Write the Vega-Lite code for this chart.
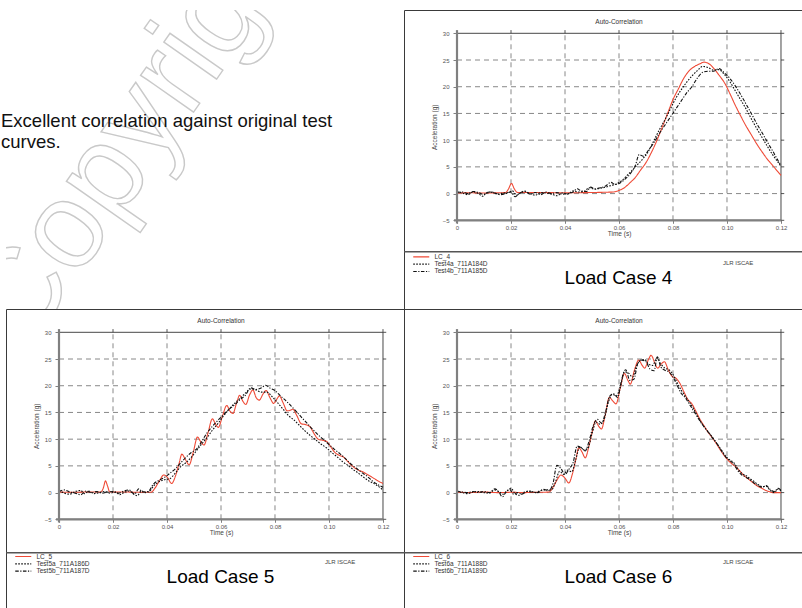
{
  "$schema": "https://vega.github.io/schema/vega-lite/v6.json",
  "padding": {"left": 1, "top": 9, "right": 0, "bottom": 0},
  "config": {"font": "Liberation Sans", "view": {"stroke": "#3a3a3a", "strokeWidth": 1}},
  "datasets": {
    "p4": [
      {"s":"LC_4","t":0,"a":0.1},{"s":"LC_4","t":0.005,"a":0.15},{"s":"LC_4","t":0.01,"a":0.1},{"s":"LC_4","t":0.015,"a":0.15},{"s":"LC_4","t":0.018,"a":0.2},{"s":"LC_4","t":0.019,"a":0.8},{"s":"LC_4","t":0.0202,"a":1.9},{"s":"LC_4","t":0.0212,"a":0.9},{"s":"LC_4","t":0.0225,"a":0.2},{"s":"LC_4","t":0.03,"a":0.2},{"s":"LC_4","t":0.04,"a":0.15},{"s":"LC_4","t":0.05,"a":0.2},{"s":"LC_4","t":0.055,"a":0.25},{"s":"LC_4","t":0.058,"a":0.3},{"s":"LC_4","t":0.06,"a":0.6},{"s":"LC_4","t":0.062,"a":1.1},{"s":"LC_4","t":0.064,"a":2.0},{"s":"LC_4","t":0.066,"a":3.0},{"s":"LC_4","t":0.068,"a":4.4},{"s":"LC_4","t":0.07,"a":5.8},{"s":"LC_4","t":0.072,"a":7.7},{"s":"LC_4","t":0.074,"a":9.9},{"s":"LC_4","t":0.076,"a":12.4},{"s":"LC_4","t":0.078,"a":15.0},{"s":"LC_4","t":0.08,"a":17.6},{"s":"LC_4","t":0.082,"a":19.6},{"s":"LC_4","t":0.084,"a":21.6},{"s":"LC_4","t":0.086,"a":23.0},{"s":"LC_4","t":0.088,"a":23.8},{"s":"LC_4","t":0.09,"a":24.3},{"s":"LC_4","t":0.0915,"a":24.6},{"s":"LC_4","t":0.093,"a":24.4},{"s":"LC_4","t":0.095,"a":23.5},{"s":"LC_4","t":0.097,"a":22.2},{"s":"LC_4","t":0.099,"a":20.8},{"s":"LC_4","t":0.101,"a":18.8},{"s":"LC_4","t":0.103,"a":16.6},{"s":"LC_4","t":0.105,"a":14.6},{"s":"LC_4","t":0.107,"a":12.7},{"s":"LC_4","t":0.109,"a":11.0},{"s":"LC_4","t":0.111,"a":9.3},{"s":"LC_4","t":0.113,"a":7.8},{"s":"LC_4","t":0.115,"a":6.4},{"s":"LC_4","t":0.117,"a":5.2},{"s":"LC_4","t":0.119,"a":4.0},{"s":"LC_4","t":0.12,"a":3.4},
      {"s":"Test4a_711A184D","t":0,"a":0.4},{"s":"Test4a_711A184D","t":0.002,"a":0.1},{"s":"Test4a_711A184D","t":0.004,"a":-0.2},{"s":"Test4a_711A184D","t":0.006,"a":0.3},{"s":"Test4a_711A184D","t":0.008,"a":0.0},{"s":"Test4a_711A184D","t":0.0095,"a":-0.5},{"s":"Test4a_711A184D","t":0.011,"a":0.2},{"s":"Test4a_711A184D","t":0.013,"a":0.3},{"s":"Test4a_711A184D","t":0.015,"a":-0.1},{"s":"Test4a_711A184D","t":0.017,"a":0.1},{"s":"Test4a_711A184D","t":0.019,"a":0.2},{"s":"Test4a_711A184D","t":0.0205,"a":0.5},{"s":"Test4a_711A184D","t":0.022,"a":-0.3},{"s":"Test4a_711A184D","t":0.0235,"a":0.1},{"s":"Test4a_711A184D","t":0.025,"a":0.4},{"s":"Test4a_711A184D","t":0.027,"a":0.0},{"s":"Test4a_711A184D","t":0.029,"a":-0.3},{"s":"Test4a_711A184D","t":0.031,"a":0.2},{"s":"Test4a_711A184D","t":0.033,"a":0.1},{"s":"Test4a_711A184D","t":0.035,"a":-0.1},{"s":"Test4a_711A184D","t":0.037,"a":-0.4},{"s":"Test4a_711A184D","t":0.039,"a":0.1},{"s":"Test4a_711A184D","t":0.041,"a":-0.1},{"s":"Test4a_711A184D","t":0.043,"a":0.5},{"s":"Test4a_711A184D","t":0.045,"a":0.3},{"s":"Test4a_711A184D","t":0.047,"a":0.4},{"s":"Test4a_711A184D","t":0.049,"a":1.1},{"s":"Test4a_711A184D","t":0.051,"a":0.8},{"s":"Test4a_711A184D","t":0.053,"a":1.0},{"s":"Test4a_711A184D","t":0.055,"a":1.2},{"s":"Test4a_711A184D","t":0.057,"a":1.5},{"s":"Test4a_711A184D","t":0.059,"a":1.8},{"s":"Test4a_711A184D","t":0.061,"a":2.4},{"s":"Test4a_711A184D","t":0.063,"a":3.4},{"s":"Test4a_711A184D","t":0.065,"a":4.4},{"s":"Test4a_711A184D","t":0.067,"a":5.5},{"s":"Test4a_711A184D","t":0.069,"a":6.6},{"s":"Test4a_711A184D","t":0.071,"a":8.0},{"s":"Test4a_711A184D","t":0.073,"a":10.0},{"s":"Test4a_711A184D","t":0.075,"a":12.0},{"s":"Test4a_711A184D","t":0.077,"a":13.8},{"s":"Test4a_711A184D","t":0.079,"a":15.8},{"s":"Test4a_711A184D","t":0.081,"a":17.8},{"s":"Test4a_711A184D","t":0.083,"a":19.4},{"s":"Test4a_711A184D","t":0.085,"a":20.8},{"s":"Test4a_711A184D","t":0.087,"a":22.0},{"s":"Test4a_711A184D","t":0.089,"a":23.0},{"s":"Test4a_711A184D","t":0.091,"a":23.8},{"s":"Test4a_711A184D","t":0.093,"a":23.6},{"s":"Test4a_711A184D","t":0.095,"a":23.1},{"s":"Test4a_711A184D","t":0.097,"a":23.2},{"s":"Test4a_711A184D","t":0.099,"a":22.3},{"s":"Test4a_711A184D","t":0.101,"a":21.0},{"s":"Test4a_711A184D","t":0.103,"a":19.3},{"s":"Test4a_711A184D","t":0.105,"a":17.6},{"s":"Test4a_711A184D","t":0.107,"a":15.9},{"s":"Test4a_711A184D","t":0.109,"a":14.0},{"s":"Test4a_711A184D","t":0.111,"a":12.2},{"s":"Test4a_711A184D","t":0.113,"a":10.5},{"s":"Test4a_711A184D","t":0.115,"a":8.8},{"s":"Test4a_711A184D","t":0.117,"a":7.2},{"s":"Test4a_711A184D","t":0.119,"a":5.8},{"s":"Test4a_711A184D","t":0.12,"a":5.1},
      {"s":"Test4b_711A185D","t":0,"a":0.2},{"s":"Test4b_711A185D","t":0.002,"a":0.3},{"s":"Test4b_711A185D","t":0.004,"a":0.0},{"s":"Test4b_711A185D","t":0.006,"a":0.4},{"s":"Test4b_711A185D","t":0.008,"a":0.2},{"s":"Test4b_711A185D","t":0.01,"a":-0.2},{"s":"Test4b_711A185D","t":0.012,"a":0.3},{"s":"Test4b_711A185D","t":0.014,"a":0.1},{"s":"Test4b_711A185D","t":0.016,"a":-0.2},{"s":"Test4b_711A185D","t":0.018,"a":0.0},{"s":"Test4b_711A185D","t":0.02,"a":0.3},{"s":"Test4b_711A185D","t":0.0215,"a":-0.6},{"s":"Test4b_711A185D","t":0.023,"a":0.0},{"s":"Test4b_711A185D","t":0.025,"a":0.5},{"s":"Test4b_711A185D","t":0.027,"a":-0.1},{"s":"Test4b_711A185D","t":0.029,"a":0.2},{"s":"Test4b_711A185D","t":0.031,"a":-0.2},{"s":"Test4b_711A185D","t":0.033,"a":0.3},{"s":"Test4b_711A185D","t":0.035,"a":0.0},{"s":"Test4b_711A185D","t":0.037,"a":0.2},{"s":"Test4b_711A185D","t":0.039,"a":-0.1},{"s":"Test4b_711A185D","t":0.041,"a":0.0},{"s":"Test4b_711A185D","t":0.043,"a":0.3},{"s":"Test4b_711A185D","t":0.0445,"a":0.9},{"s":"Test4b_711A185D","t":0.046,"a":0.5},{"s":"Test4b_711A185D","t":0.048,"a":0.4},{"s":"Test4b_711A185D","t":0.0495,"a":1.2},{"s":"Test4b_711A185D","t":0.051,"a":0.9},{"s":"Test4b_711A185D","t":0.053,"a":1.1},{"s":"Test4b_711A185D","t":0.055,"a":1.4},{"s":"Test4b_711A185D","t":0.057,"a":2.1},{"s":"Test4b_711A185D","t":0.0585,"a":1.7},{"s":"Test4b_711A185D","t":0.06,"a":1.9},{"s":"Test4b_711A185D","t":0.062,"a":2.6},{"s":"Test4b_711A185D","t":0.064,"a":3.6},{"s":"Test4b_711A185D","t":0.066,"a":5.2},{"s":"Test4b_711A185D","t":0.0675,"a":7.3},{"s":"Test4b_711A185D","t":0.069,"a":7.0},{"s":"Test4b_711A185D","t":0.071,"a":8.2},{"s":"Test4b_711A185D","t":0.073,"a":9.6},{"s":"Test4b_711A185D","t":0.075,"a":11.3},{"s":"Test4b_711A185D","t":0.077,"a":12.8},{"s":"Test4b_711A185D","t":0.079,"a":14.3},{"s":"Test4b_711A185D","t":0.081,"a":15.8},{"s":"Test4b_711A185D","t":0.083,"a":17.3},{"s":"Test4b_711A185D","t":0.085,"a":18.8},{"s":"Test4b_711A185D","t":0.087,"a":20.0},{"s":"Test4b_711A185D","t":0.089,"a":21.6},{"s":"Test4b_711A185D","t":0.091,"a":22.7},{"s":"Test4b_711A185D","t":0.093,"a":22.9},{"s":"Test4b_711A185D","t":0.095,"a":22.9},{"s":"Test4b_711A185D","t":0.097,"a":23.4},{"s":"Test4b_711A185D","t":0.099,"a":22.6},{"s":"Test4b_711A185D","t":0.101,"a":21.6},{"s":"Test4b_711A185D","t":0.103,"a":20.2},{"s":"Test4b_711A185D","t":0.105,"a":18.6},{"s":"Test4b_711A185D","t":0.107,"a":16.8},{"s":"Test4b_711A185D","t":0.109,"a":15.0},{"s":"Test4b_711A185D","t":0.111,"a":13.1},{"s":"Test4b_711A185D","t":0.113,"a":11.4},{"s":"Test4b_711A185D","t":0.115,"a":9.6},{"s":"Test4b_711A185D","t":0.117,"a":7.9},{"s":"Test4b_711A185D","t":0.119,"a":6.1},{"s":"Test4b_711A185D","t":0.12,"a":5.3}
    ],
    "p5": [
      {"s":"LC_5","t":0,"a":0.1},{"s":"LC_5","t":0.005,"a":0.05},{"s":"LC_5","t":0.01,"a":0.1},{"s":"LC_5","t":0.0155,"a":0.1},{"s":"LC_5","t":0.0165,"a":1.0},{"s":"LC_5","t":0.0172,"a":2.2},{"s":"LC_5","t":0.018,"a":1.2},{"s":"LC_5","t":0.0188,"a":0.1},{"s":"LC_5","t":0.025,"a":0.1},{"s":"LC_5","t":0.03,"a":0.05},{"s":"LC_5","t":0.034,"a":0.05},{"s":"LC_5","t":0.0355,"a":0.8},{"s":"LC_5","t":0.0372,"a":2.2},{"s":"LC_5","t":0.0388,"a":3.3},{"s":"LC_5","t":0.0402,"a":2.8},{"s":"LC_5","t":0.0417,"a":1.7},{"s":"LC_5","t":0.0432,"a":3.2},{"s":"LC_5","t":0.0445,"a":5.5},{"s":"LC_5","t":0.0455,"a":7.2},{"s":"LC_5","t":0.0468,"a":6.2},{"s":"LC_5","t":0.0482,"a":5.2},{"s":"LC_5","t":0.0497,"a":7.5},{"s":"LC_5","t":0.0513,"a":10.4},{"s":"LC_5","t":0.0526,"a":9.4},{"s":"LC_5","t":0.0537,"a":8.9},{"s":"LC_5","t":0.0552,"a":11.2},{"s":"LC_5","t":0.0568,"a":13.8},{"s":"LC_5","t":0.058,"a":12.8},{"s":"LC_5","t":0.059,"a":12.2},{"s":"LC_5","t":0.0606,"a":14.4},{"s":"LC_5","t":0.0621,"a":16.3},{"s":"LC_5","t":0.0634,"a":15.2},{"s":"LC_5","t":0.0644,"a":14.8},{"s":"LC_5","t":0.0658,"a":16.8},{"s":"LC_5","t":0.0669,"a":18.2},{"s":"LC_5","t":0.0681,"a":17.1},{"s":"LC_5","t":0.0692,"a":16.5},{"s":"LC_5","t":0.0706,"a":18.3},{"s":"LC_5","t":0.0718,"a":19.2},{"s":"LC_5","t":0.073,"a":17.8},{"s":"LC_5","t":0.0742,"a":17.3},{"s":"LC_5","t":0.0755,"a":18.4},{"s":"LC_5","t":0.0767,"a":19.1},{"s":"LC_5","t":0.0781,"a":17.8},{"s":"LC_5","t":0.0795,"a":16.7},{"s":"LC_5","t":0.0807,"a":17.5},{"s":"LC_5","t":0.0816,"a":18.1},{"s":"LC_5","t":0.083,"a":16.8},{"s":"LC_5","t":0.0845,"a":15.3},{"s":"LC_5","t":0.0856,"a":15.4},{"s":"LC_5","t":0.0866,"a":15.6},{"s":"LC_5","t":0.088,"a":14.5},{"s":"LC_5","t":0.0897,"a":12.9},{"s":"LC_5","t":0.0915,"a":12.7},{"s":"LC_5","t":0.093,"a":12.3},{"s":"LC_5","t":0.0945,"a":11.0},{"s":"LC_5","t":0.096,"a":10.0},{"s":"LC_5","t":0.0975,"a":9.8},{"s":"LC_5","t":0.099,"a":9.6},{"s":"LC_5","t":0.1005,"a":8.7},{"s":"LC_5","t":0.102,"a":7.6},{"s":"LC_5","t":0.1037,"a":7.0},{"s":"LC_5","t":0.1055,"a":6.6},{"s":"LC_5","t":0.107,"a":5.8},{"s":"LC_5","t":0.109,"a":4.8},{"s":"LC_5","t":0.111,"a":4.2},{"s":"LC_5","t":0.1125,"a":3.9},{"s":"LC_5","t":0.1145,"a":3.3},{"s":"LC_5","t":0.1165,"a":2.7},{"s":"LC_5","t":0.1185,"a":2.1},{"s":"LC_5","t":0.12,"a":1.7},
      {"s":"Test5a_711A186D","t":0,"a":0.4},{"s":"Test5a_711A186D","t":0.002,"a":-0.1},{"s":"Test5a_711A186D","t":0.004,"a":-0.3},{"s":"Test5a_711A186D","t":0.006,"a":0.2},{"s":"Test5a_711A186D","t":0.008,"a":0.4},{"s":"Test5a_711A186D","t":0.0095,"a":-0.2},{"s":"Test5a_711A186D","t":0.011,"a":0.3},{"s":"Test5a_711A186D","t":0.013,"a":-0.2},{"s":"Test5a_711A186D","t":0.015,"a":0.0},{"s":"Test5a_711A186D","t":0.017,"a":0.2},{"s":"Test5a_711A186D","t":0.019,"a":-0.1},{"s":"Test5a_711A186D","t":0.021,"a":0.1},{"s":"Test5a_711A186D","t":0.0225,"a":-0.4},{"s":"Test5a_711A186D","t":0.024,"a":0.0},{"s":"Test5a_711A186D","t":0.026,"a":0.3},{"s":"Test5a_711A186D","t":0.0275,"a":-0.2},{"s":"Test5a_711A186D","t":0.029,"a":-0.6},{"s":"Test5a_711A186D","t":0.0305,"a":0.3},{"s":"Test5a_711A186D","t":0.032,"a":0.0},{"s":"Test5a_711A186D","t":0.0335,"a":0.2},{"s":"Test5a_711A186D","t":0.035,"a":1.2},{"s":"Test5a_711A186D","t":0.037,"a":2.0},{"s":"Test5a_711A186D","t":0.039,"a":2.4},{"s":"Test5a_711A186D","t":0.041,"a":2.6},{"s":"Test5a_711A186D","t":0.043,"a":3.6},{"s":"Test5a_711A186D","t":0.045,"a":4.8},{"s":"Test5a_711A186D","t":0.047,"a":5.6},{"s":"Test5a_711A186D","t":0.049,"a":6.6},{"s":"Test5a_711A186D","t":0.051,"a":7.9},{"s":"Test5a_711A186D","t":0.053,"a":9.2},{"s":"Test5a_711A186D","t":0.055,"a":10.4},{"s":"Test5a_711A186D","t":0.057,"a":11.8},{"s":"Test5a_711A186D","t":0.059,"a":13.0},{"s":"Test5a_711A186D","t":0.061,"a":14.4},{"s":"Test5a_711A186D","t":0.063,"a":15.6},{"s":"Test5a_711A186D","t":0.065,"a":16.7},{"s":"Test5a_711A186D","t":0.067,"a":17.6},{"s":"Test5a_711A186D","t":0.069,"a":18.6},{"s":"Test5a_711A186D","t":0.071,"a":19.4},{"s":"Test5a_711A186D","t":0.073,"a":19.2},{"s":"Test5a_711A186D","t":0.075,"a":18.8},{"s":"Test5a_711A186D","t":0.077,"a":18.8},{"s":"Test5a_711A186D","t":0.079,"a":17.9},{"s":"Test5a_711A186D","t":0.081,"a":16.8},{"s":"Test5a_711A186D","t":0.083,"a":15.6},{"s":"Test5a_711A186D","t":0.085,"a":14.4},{"s":"Test5a_711A186D","t":0.087,"a":13.6},{"s":"Test5a_711A186D","t":0.089,"a":12.6},{"s":"Test5a_711A186D","t":0.091,"a":11.6},{"s":"Test5a_711A186D","t":0.093,"a":10.7},{"s":"Test5a_711A186D","t":0.095,"a":9.9},{"s":"Test5a_711A186D","t":0.097,"a":9.1},{"s":"Test5a_711A186D","t":0.099,"a":8.4},{"s":"Test5a_711A186D","t":0.101,"a":7.5},{"s":"Test5a_711A186D","t":0.103,"a":6.7},{"s":"Test5a_711A186D","t":0.105,"a":5.8},{"s":"Test5a_711A186D","t":0.107,"a":5.1},{"s":"Test5a_711A186D","t":0.109,"a":4.3},{"s":"Test5a_711A186D","t":0.111,"a":3.6},{"s":"Test5a_711A186D","t":0.113,"a":2.8},{"s":"Test5a_711A186D","t":0.115,"a":2.1},{"s":"Test5a_711A186D","t":0.117,"a":1.6},{"s":"Test5a_711A186D","t":0.119,"a":0.9},{"s":"Test5a_711A186D","t":0.12,"a":0.5},
      {"s":"Test5b_711A187D","t":0,"a":0.2},{"s":"Test5b_711A187D","t":0.002,"a":0.5},{"s":"Test5b_711A187D","t":0.004,"a":0.1},{"s":"Test5b_711A187D","t":0.006,"a":-0.1},{"s":"Test5b_711A187D","t":0.008,"a":-0.4},{"s":"Test5b_711A187D","t":0.01,"a":0.3},{"s":"Test5b_711A187D","t":0.012,"a":0.0},{"s":"Test5b_711A187D","t":0.014,"a":0.2},{"s":"Test5b_711A187D","t":0.016,"a":-0.1},{"s":"Test5b_711A187D","t":0.018,"a":0.1},{"s":"Test5b_711A187D","t":0.02,"a":0.2},{"s":"Test5b_711A187D","t":0.022,"a":-0.1},{"s":"Test5b_711A187D","t":0.024,"a":0.3},{"s":"Test5b_711A187D","t":0.026,"a":0.5},{"s":"Test5b_711A187D","t":0.028,"a":-0.3},{"s":"Test5b_711A187D","t":0.0295,"a":0.7},{"s":"Test5b_711A187D","t":0.031,"a":0.1},{"s":"Test5b_711A187D","t":0.033,"a":0.2},{"s":"Test5b_711A187D","t":0.035,"a":1.6},{"s":"Test5b_711A187D","t":0.037,"a":2.3},{"s":"Test5b_711A187D","t":0.039,"a":2.8},{"s":"Test5b_711A187D","t":0.041,"a":3.6},{"s":"Test5b_711A187D","t":0.043,"a":4.4},{"s":"Test5b_711A187D","t":0.045,"a":5.5},{"s":"Test5b_711A187D","t":0.047,"a":6.6},{"s":"Test5b_711A187D","t":0.049,"a":7.5},{"s":"Test5b_711A187D","t":0.051,"a":8.2},{"s":"Test5b_711A187D","t":0.053,"a":9.7},{"s":"Test5b_711A187D","t":0.055,"a":11.3},{"s":"Test5b_711A187D","t":0.057,"a":12.5},{"s":"Test5b_711A187D","t":0.059,"a":13.6},{"s":"Test5b_711A187D","t":0.061,"a":14.6},{"s":"Test5b_711A187D","t":0.063,"a":15.6},{"s":"Test5b_711A187D","t":0.065,"a":16.4},{"s":"Test5b_711A187D","t":0.067,"a":17.4},{"s":"Test5b_711A187D","t":0.069,"a":18.2},{"s":"Test5b_711A187D","t":0.071,"a":19.6},{"s":"Test5b_711A187D","t":0.073,"a":19.3},{"s":"Test5b_711A187D","t":0.075,"a":19.6},{"s":"Test5b_711A187D","t":0.0765,"a":20.1},{"s":"Test5b_711A187D","t":0.078,"a":19.6},{"s":"Test5b_711A187D","t":0.08,"a":19.1},{"s":"Test5b_711A187D","t":0.082,"a":18.1},{"s":"Test5b_711A187D","t":0.084,"a":17.2},{"s":"Test5b_711A187D","t":0.086,"a":16.2},{"s":"Test5b_711A187D","t":0.088,"a":15.1},{"s":"Test5b_711A187D","t":0.09,"a":14.0},{"s":"Test5b_711A187D","t":0.092,"a":12.9},{"s":"Test5b_711A187D","t":0.094,"a":11.8},{"s":"Test5b_711A187D","t":0.096,"a":10.8},{"s":"Test5b_711A187D","t":0.098,"a":9.9},{"s":"Test5b_711A187D","t":0.1,"a":9.0},{"s":"Test5b_711A187D","t":0.102,"a":8.1},{"s":"Test5b_711A187D","t":0.104,"a":7.3},{"s":"Test5b_711A187D","t":0.106,"a":6.4},{"s":"Test5b_711A187D","t":0.108,"a":5.4},{"s":"Test5b_711A187D","t":0.11,"a":4.6},{"s":"Test5b_711A187D","t":0.112,"a":3.8},{"s":"Test5b_711A187D","t":0.114,"a":3.1},{"s":"Test5b_711A187D","t":0.116,"a":2.2},{"s":"Test5b_711A187D","t":0.118,"a":1.5},{"s":"Test5b_711A187D","t":0.12,"a":1.0}
    ],
    "p6": [
      {"s":"LC_6","t":0,"a":0.1},{"s":"LC_6","t":0.005,"a":0.0},{"s":"LC_6","t":0.01,"a":0.1},{"s":"LC_6","t":0.015,"a":0.0},{"s":"LC_6","t":0.02,"a":0.05},{"s":"LC_6","t":0.025,"a":0.0},{"s":"LC_6","t":0.03,"a":0.05},{"s":"LC_6","t":0.034,"a":0.1},{"s":"LC_6","t":0.0358,"a":1.2},{"s":"LC_6","t":0.0372,"a":2.5},{"s":"LC_6","t":0.0385,"a":3.3},{"s":"LC_6","t":0.04,"a":2.7},{"s":"LC_6","t":0.0414,"a":1.8},{"s":"LC_6","t":0.0428,"a":3.6},{"s":"LC_6","t":0.0441,"a":6.4},{"s":"LC_6","t":0.0451,"a":8.4},{"s":"LC_6","t":0.0463,"a":7.6},{"s":"LC_6","t":0.0475,"a":6.5},{"s":"LC_6","t":0.049,"a":9.0},{"s":"LC_6","t":0.0502,"a":11.6},{"s":"LC_6","t":0.0512,"a":13.4},{"s":"LC_6","t":0.0525,"a":12.4},{"s":"LC_6","t":0.0535,"a":11.9},{"s":"LC_6","t":0.0549,"a":14.5},{"s":"LC_6","t":0.0564,"a":17.8},{"s":"LC_6","t":0.0578,"a":17.1},{"s":"LC_6","t":0.0589,"a":16.6},{"s":"LC_6","t":0.0604,"a":19.4},{"s":"LC_6","t":0.062,"a":22.3},{"s":"LC_6","t":0.0633,"a":21.0},{"s":"LC_6","t":0.0642,"a":20.3},{"s":"LC_6","t":0.0657,"a":22.9},{"s":"LC_6","t":0.0673,"a":24.8},{"s":"LC_6","t":0.0686,"a":23.8},{"s":"LC_6","t":0.0695,"a":23.3},{"s":"LC_6","t":0.0709,"a":24.9},{"s":"LC_6","t":0.0719,"a":25.7},{"s":"LC_6","t":0.0733,"a":24.2},{"s":"LC_6","t":0.0743,"a":23.3},{"s":"LC_6","t":0.0757,"a":24.1},{"s":"LC_6","t":0.0768,"a":24.5},{"s":"LC_6","t":0.0783,"a":22.9},{"s":"LC_6","t":0.0796,"a":21.8},{"s":"LC_6","t":0.0811,"a":21.4},{"s":"LC_6","t":0.0826,"a":20.4},{"s":"LC_6","t":0.084,"a":18.9},{"s":"LC_6","t":0.0855,"a":17.4},{"s":"LC_6","t":0.087,"a":16.6},{"s":"LC_6","t":0.0885,"a":15.2},{"s":"LC_6","t":0.09,"a":13.7},{"s":"LC_6","t":0.0915,"a":12.5},{"s":"LC_6","t":0.093,"a":11.3},{"s":"LC_6","t":0.0945,"a":10.3},{"s":"LC_6","t":0.096,"a":9.2},{"s":"LC_6","t":0.0975,"a":8.0},{"s":"LC_6","t":0.099,"a":6.9},{"s":"LC_6","t":0.1005,"a":6.0},{"s":"LC_6","t":0.102,"a":5.3},{"s":"LC_6","t":0.1035,"a":4.7},{"s":"LC_6","t":0.105,"a":3.9},{"s":"LC_6","t":0.1065,"a":3.1},{"s":"LC_6","t":0.108,"a":2.5},{"s":"LC_6","t":0.1095,"a":1.9},{"s":"LC_6","t":0.111,"a":1.3},{"s":"LC_6","t":0.1125,"a":0.9},{"s":"LC_6","t":0.114,"a":0.5},{"s":"LC_6","t":0.1155,"a":0.2},{"s":"LC_6","t":0.117,"a":0.0},{"s":"LC_6","t":0.12,"a":0.0},
      {"s":"Test6a_711A188D","t":0,"a":0.2},{"s":"Test6a_711A188D","t":0.002,"a":0.0},{"s":"Test6a_711A188D","t":0.004,"a":-0.2},{"s":"Test6a_711A188D","t":0.006,"a":0.1},{"s":"Test6a_711A188D","t":0.008,"a":0.2},{"s":"Test6a_711A188D","t":0.01,"a":0.0},{"s":"Test6a_711A188D","t":0.012,"a":-0.1},{"s":"Test6a_711A188D","t":0.014,"a":0.5},{"s":"Test6a_711A188D","t":0.0155,"a":0.2},{"s":"Test6a_711A188D","t":0.017,"a":-0.3},{"s":"Test6a_711A188D","t":0.0185,"a":0.3},{"s":"Test6a_711A188D","t":0.02,"a":0.8},{"s":"Test6a_711A188D","t":0.0215,"a":-0.2},{"s":"Test6a_711A188D","t":0.023,"a":-0.5},{"s":"Test6a_711A188D","t":0.025,"a":0.1},{"s":"Test6a_711A188D","t":0.027,"a":0.3},{"s":"Test6a_711A188D","t":0.029,"a":0.0},{"s":"Test6a_711A188D","t":0.031,"a":0.4},{"s":"Test6a_711A188D","t":0.033,"a":0.5},{"s":"Test6a_711A188D","t":0.035,"a":0.5},{"s":"Test6a_711A188D","t":0.0365,"a":2.0},{"s":"Test6a_711A188D","t":0.038,"a":4.0},{"s":"Test6a_711A188D","t":0.0395,"a":3.4},{"s":"Test6a_711A188D","t":0.041,"a":4.2},{"s":"Test6a_711A188D","t":0.0425,"a":3.9},{"s":"Test6a_711A188D","t":0.044,"a":6.2},{"s":"Test6a_711A188D","t":0.0455,"a":8.6},{"s":"Test6a_711A188D","t":0.047,"a":8.0},{"s":"Test6a_711A188D","t":0.0485,"a":8.3},{"s":"Test6a_711A188D","t":0.05,"a":11.0},{"s":"Test6a_711A188D","t":0.0515,"a":13.2},{"s":"Test6a_711A188D","t":0.053,"a":12.8},{"s":"Test6a_711A188D","t":0.0545,"a":13.7},{"s":"Test6a_711A188D","t":0.056,"a":16.8},{"s":"Test6a_711A188D","t":0.0575,"a":18.4},{"s":"Test6a_711A188D","t":0.059,"a":18.1},{"s":"Test6a_711A188D","t":0.0605,"a":19.8},{"s":"Test6a_711A188D","t":0.062,"a":22.6},{"s":"Test6a_711A188D","t":0.0635,"a":22.4},{"s":"Test6a_711A188D","t":0.065,"a":21.6},{"s":"Test6a_711A188D","t":0.0665,"a":23.7},{"s":"Test6a_711A188D","t":0.068,"a":24.8},{"s":"Test6a_711A188D","t":0.0695,"a":24.9},{"s":"Test6a_711A188D","t":0.071,"a":24.0},{"s":"Test6a_711A188D","t":0.0725,"a":23.8},{"s":"Test6a_711A188D","t":0.074,"a":25.2},{"s":"Test6a_711A188D","t":0.0755,"a":24.1},{"s":"Test6a_711A188D","t":0.077,"a":23.3},{"s":"Test6a_711A188D","t":0.0785,"a":23.0},{"s":"Test6a_711A188D","t":0.08,"a":22.1},{"s":"Test6a_711A188D","t":0.0815,"a":20.6},{"s":"Test6a_711A188D","t":0.083,"a":19.2},{"s":"Test6a_711A188D","t":0.0845,"a":18.1},{"s":"Test6a_711A188D","t":0.086,"a":17.0},{"s":"Test6a_711A188D","t":0.0875,"a":15.8},{"s":"Test6a_711A188D","t":0.089,"a":14.4},{"s":"Test6a_711A188D","t":0.0905,"a":13.1},{"s":"Test6a_711A188D","t":0.092,"a":12.0},{"s":"Test6a_711A188D","t":0.0935,"a":11.1},{"s":"Test6a_711A188D","t":0.095,"a":10.1},{"s":"Test6a_711A188D","t":0.0965,"a":9.0},{"s":"Test6a_711A188D","t":0.098,"a":7.9},{"s":"Test6a_711A188D","t":0.0995,"a":6.8},{"s":"Test6a_711A188D","t":0.101,"a":6.1},{"s":"Test6a_711A188D","t":0.1025,"a":5.6},{"s":"Test6a_711A188D","t":0.104,"a":4.5},{"s":"Test6a_711A188D","t":0.1055,"a":3.6},{"s":"Test6a_711A188D","t":0.107,"a":3.2},{"s":"Test6a_711A188D","t":0.1085,"a":2.6},{"s":"Test6a_711A188D","t":0.11,"a":2.1},{"s":"Test6a_711A188D","t":0.1115,"a":1.5},{"s":"Test6a_711A188D","t":0.113,"a":1.1},{"s":"Test6a_711A188D","t":0.1145,"a":1.2},{"s":"Test6a_711A188D","t":0.116,"a":0.4},{"s":"Test6a_711A188D","t":0.1175,"a":0.0},{"s":"Test6a_711A188D","t":0.119,"a":0.7},{"s":"Test6a_711A188D","t":0.12,"a":0.3},
      {"s":"Test6b_711A189D","t":0,"a":0.3},{"s":"Test6b_711A189D","t":0.002,"a":0.1},{"s":"Test6b_711A189D","t":0.004,"a":0.0},{"s":"Test6b_711A189D","t":0.006,"a":0.2},{"s":"Test6b_711A189D","t":0.008,"a":0.0},{"s":"Test6b_711A189D","t":0.01,"a":0.2},{"s":"Test6b_711A189D","t":0.012,"a":0.0},{"s":"Test6b_711A189D","t":0.014,"a":0.7},{"s":"Test6b_711A189D","t":0.0155,"a":0.1},{"s":"Test6b_711A189D","t":0.0168,"a":-0.8},{"s":"Test6b_711A189D","t":0.018,"a":0.0},{"s":"Test6b_711A189D","t":0.0195,"a":0.6},{"s":"Test6b_711A189D","t":0.021,"a":-0.3},{"s":"Test6b_711A189D","t":0.0225,"a":0.0},{"s":"Test6b_711A189D","t":0.024,"a":-0.3},{"s":"Test6b_711A189D","t":0.026,"a":0.2},{"s":"Test6b_711A189D","t":0.028,"a":0.1},{"s":"Test6b_711A189D","t":0.03,"a":0.0},{"s":"Test6b_711A189D","t":0.032,"a":0.6},{"s":"Test6b_711A189D","t":0.034,"a":0.4},{"s":"Test6b_711A189D","t":0.0355,"a":1.6},{"s":"Test6b_711A189D","t":0.037,"a":5.1},{"s":"Test6b_711A189D","t":0.0385,"a":4.5},{"s":"Test6b_711A189D","t":0.04,"a":3.4},{"s":"Test6b_711A189D","t":0.0415,"a":4.4},{"s":"Test6b_711A189D","t":0.043,"a":5.6},{"s":"Test6b_711A189D","t":0.0445,"a":8.7},{"s":"Test6b_711A189D","t":0.046,"a":8.4},{"s":"Test6b_711A189D","t":0.0475,"a":7.8},{"s":"Test6b_711A189D","t":0.049,"a":9.8},{"s":"Test6b_711A189D","t":0.0505,"a":12.6},{"s":"Test6b_711A189D","t":0.052,"a":13.7},{"s":"Test6b_711A189D","t":0.0535,"a":13.0},{"s":"Test6b_711A189D","t":0.055,"a":15.0},{"s":"Test6b_711A189D","t":0.0565,"a":18.0},{"s":"Test6b_711A189D","t":0.058,"a":18.5},{"s":"Test6b_711A189D","t":0.0595,"a":17.8},{"s":"Test6b_711A189D","t":0.061,"a":21.2},{"s":"Test6b_711A189D","t":0.0625,"a":23.0},{"s":"Test6b_711A189D","t":0.064,"a":21.0},{"s":"Test6b_711A189D","t":0.0655,"a":21.2},{"s":"Test6b_711A189D","t":0.067,"a":24.2},{"s":"Test6b_711A189D","t":0.0685,"a":24.8},{"s":"Test6b_711A189D","t":0.07,"a":24.5},{"s":"Test6b_711A189D","t":0.0715,"a":23.1},{"s":"Test6b_711A189D","t":0.073,"a":22.8},{"s":"Test6b_711A189D","t":0.0742,"a":25.4},{"s":"Test6b_711A189D","t":0.0755,"a":23.5},{"s":"Test6b_711A189D","t":0.077,"a":22.9},{"s":"Test6b_711A189D","t":0.0785,"a":22.6},{"s":"Test6b_711A189D","t":0.08,"a":21.6},{"s":"Test6b_711A189D","t":0.0815,"a":20.1},{"s":"Test6b_711A189D","t":0.083,"a":18.6},{"s":"Test6b_711A189D","t":0.0845,"a":17.8},{"s":"Test6b_711A189D","t":0.086,"a":16.6},{"s":"Test6b_711A189D","t":0.0875,"a":15.4},{"s":"Test6b_711A189D","t":0.089,"a":14.2},{"s":"Test6b_711A189D","t":0.0905,"a":13.0},{"s":"Test6b_711A189D","t":0.092,"a":12.0},{"s":"Test6b_711A189D","t":0.0935,"a":11.0},{"s":"Test6b_711A189D","t":0.095,"a":10.0},{"s":"Test6b_711A189D","t":0.0965,"a":9.0},{"s":"Test6b_711A189D","t":0.098,"a":7.8},{"s":"Test6b_711A189D","t":0.0995,"a":6.7},{"s":"Test6b_711A189D","t":0.101,"a":6.0},{"s":"Test6b_711A189D","t":0.1025,"a":5.3},{"s":"Test6b_711A189D","t":0.104,"a":4.1},{"s":"Test6b_711A189D","t":0.1055,"a":3.3},{"s":"Test6b_711A189D","t":0.107,"a":2.9},{"s":"Test6b_711A189D","t":0.1085,"a":2.4},{"s":"Test6b_711A189D","t":0.11,"a":1.8},{"s":"Test6b_711A189D","t":0.1115,"a":1.3},{"s":"Test6b_711A189D","t":0.113,"a":1.0},{"s":"Test6b_711A189D","t":0.1145,"a":1.3},{"s":"Test6b_711A189D","t":0.116,"a":0.6},{"s":"Test6b_711A189D","t":0.1175,"a":0.2},{"s":"Test6b_711A189D","t":0.119,"a":0.8},{"s":"Test6b_711A189D","t":0.12,"a":0.4}
    ]
  },
  "columns": 2,
  "spacing": 0,
  "bounds": "flush",
  "resolve": {"scale": {"x": "independent", "y": "independent", "color": "independent", "strokeDash": "independent"}, "axis": {"x": "independent", "y": "independent"}, "legend": {"color": "independent", "strokeDash": "independent"}},
  "concat": [
    {
      "width": 398, "height": 299,
      "view": {"stroke": null},
      "data": {"values": [{}]},
      "layer": [
        {
          "mark": {"type": "text", "text": "Copyright", "font": "Liberation Sans", "fontSize": 122, "angle": -55, "align": "center", "baseline": "alphabetic", "fillOpacity": 0, "stroke": "#c9c9c9", "strokeWidth": 1.4, "clip": true},
          "encoding": {
            "x": {"datum": 0.425, "type": "quantitative", "scale": {"domain": [0, 1], "nice": false, "zero": false}, "axis": null},
            "y": {"datum": 0.43, "type": "quantitative", "scale": {"domain": [0, 1], "nice": false, "zero": false, "reverse": true}, "axis": null}
          }
        },
        {
          "mark": {"type": "text", "text": ["Excellent correlation against original test", "curves."], "font": "Liberation Sans", "fontSize": 18.5, "lineHeight": 21, "align": "left", "baseline": "alphabetic", "dx": -5, "color": "#111111"},
          "encoding": {
            "x": {"datum": 0, "type": "quantitative", "scale": {"domain": [0, 1], "nice": false, "zero": false}, "axis": null},
            "y": {"datum": 0.392, "type": "quantitative", "scale": {"domain": [0, 1], "nice": false, "zero": false, "reverse": true}, "axis": null}
          }
        }
      ]
    },
    {
      "width": 398, "height": 299,
      "data": {"name": "p4"},
      "layer": [
        {
          "data": {"values": [{"t": 0.02}, {"t": 0.04}, {"t": 0.06}, {"t": 0.08}, {"t": 0.1}]},
          "mark": {"type": "rule", "color": "#7a7a7a", "strokeDash": [5, 4], "strokeWidth": 0.9},
          "encoding": {
            "x": {"field": "t", "type": "quantitative", "scale": {"domain": [-0.01963, 0.127778], "nice": false, "zero": false},
              "axis": {"values": [0, 0.02, 0.04, 0.06, 0.08, 0.1, 0.12], "offset": -88.7, "domain": false, "grid": false, "tickSize": 3, "tickColor": "#808080", "labelFontSize": 6, "labelColor": "#555555", "labelPadding": 1.5, "labelFlush": false, "labelOverlap": false, "labelExpr": "datum.value == 0 ? '0' : format(datum.value, '.2f')", "title": "Time (s)", "titleFontSize": 6.5, "titleFontWeight": "normal", "titleColor": "#444444", "titleX": 215, "titleY": 13, "titleBaseline": "middle", "titleAlign": "center"}},
            "y": {"datum": -5, "type": "quantitative", "scale": {"domain": [-21.6016, 34.361], "nice": false, "zero": false},
              "axis": {"values": [-5, 0, 5, 10, 15, 20, 25, 30], "offset": -53, "domain": false, "grid": false, "tickSize": 4, "tickColor": "#808080", "labelFontSize": 6, "labelColor": "#555555", "labelPadding": 4, "labelFlush": false, "labelOverlap": false, "title": "Acceleration (g)", "titleFontSize": 6.5, "titleFontWeight": "normal", "titleColor": "#444444", "titleX": -23, "titleY": 116.8, "titleAngle": -90, "titleBaseline": "middle", "titleAlign": "center"}},
            "y2": {"datum": 30}
          }
        },
        {
          "data": {"values": [{"a": 0}, {"a": 5}, {"a": 10}, {"a": 15}, {"a": 20}, {"a": 25}]},
          "mark": {"type": "rule", "color": "#7a7a7a", "strokeDash": [5, 4], "strokeWidth": 0.9},
          "encoding": {
            "y": {"field": "a", "type": "quantitative", "scale": {"domain": [-21.6016, 34.361], "nice": false, "zero": false}},
            "x": {"datum": 0, "type": "quantitative", "scale": {"domain": [-0.01963, 0.127778], "nice": false, "zero": false}},
            "x2": {"datum": 0.12}
          }
        },
        {
          "data": {"values": [{"t": 0.02}, {"t": 0.04}, {"t": 0.06}, {"t": 0.08}, {"t": 0.1}, {"t": 0.12}]},
          "mark": {"type": "rule", "color": "#555555", "strokeWidth": 1},
          "encoding": {
            "x": {"field": "t", "type": "quantitative", "scale": {"domain": [-0.01963, 0.127778], "nice": false, "zero": false}},
            "y": {"datum": 30, "type": "quantitative", "scale": {"domain": [-21.6016, 34.361], "nice": false, "zero": false}},
            "y2": {"datum": 30.6}
          }
        },
        {
          "data": {"values": [{"a": -5}, {"a": 0}, {"a": 5}, {"a": 10}, {"a": 15}, {"a": 20}, {"a": 25}, {"a": 30}]},
          "mark": {"type": "rule", "color": "#555555", "strokeWidth": 1},
          "encoding": {
            "y": {"field": "a", "type": "quantitative", "scale": {"domain": [-21.6016, 34.361], "nice": false, "zero": false}},
            "x": {"datum": 0.12, "type": "quantitative", "scale": {"domain": [-0.01963, 0.127778], "nice": false, "zero": false}},
            "x2": {"datum": 0.1212}
          }
        },
        {
          "data": {"values": [{}]},
          "mark": {"type": "rect", "filled": false, "stroke": "#333333", "strokeWidth": 0.9},
          "encoding": {
            "x": {"datum": 0, "type": "quantitative", "scale": {"domain": [-0.01963, 0.127778], "nice": false, "zero": false}},
            "x2": {"datum": 0.12},
            "y": {"datum": -5, "type": "quantitative", "scale": {"domain": [-21.6016, 34.361], "nice": false, "zero": false}},
            "y2": {"datum": 30}
          }
        },
        {
          "mark": {"type": "line", "interpolate": "monotone", "strokeWidth": 1.1},
          "encoding": {
            "x": {"field": "t", "type": "quantitative", "scale": {"domain": [-0.01963, 0.127778], "nice": false, "zero": false}},
            "y": {"field": "a", "type": "quantitative", "scale": {"domain": [-21.6016, 34.361], "nice": false, "zero": false}},
            "color": {"field": "s", "type": "nominal", "scale": {"domain": ["LC_4", "Test4a_711A184D", "Test4b_711A185D"], "range": ["#ef4a36", "#111111", "#111111"]},
              "legend": {"title": null, "orient": "none", "legendX": 14, "legendY": 243.6, "symbolType": "M-4,0H4", "symbolSize": 16, "symbolStrokeWidth": 1.1, "labelFontSize": 6.5, "labelColor": "#333333", "labelOffset": 10, "rowPadding": 0.3, "padding": 0}},
            "strokeDash": {"field": "s", "type": "nominal", "scale": {"domain": ["LC_4", "Test4a_711A184D", "Test4b_711A185D"], "range": [[1, 0], [1.6, 1.4], [3.5, 1.5, 1.2, 1.5]]},
              "legend": {"title": null, "orient": "none", "legendX": 14, "legendY": 243.6, "symbolType": "M-4,0H4", "symbolSize": 16, "symbolStrokeWidth": 1.1, "labelFontSize": 6.5, "labelColor": "#333333", "labelOffset": 10, "rowPadding": 0.3, "padding": 0}}
          }
        },
        {
          "data": {"values": [{}]},
          "mark": {"type": "rule", "color": "#808080", "strokeWidth": 2.2},
          "encoding": {
            "x": {"datum": 0, "type": "quantitative", "scale": {"domain": [-0.01963, 0.127778], "nice": false, "zero": false}},
            "y": {"datum": -5.6, "type": "quantitative", "scale": {"domain": [-21.6016, 34.361], "nice": false, "zero": false}},
            "y2": {"datum": 30.6}
          }
        },
        {
          "data": {"values": [{}]},
          "mark": {"type": "rule", "color": "#808080", "strokeWidth": 2.2},
          "encoding": {
            "y": {"datum": -5, "type": "quantitative", "scale": {"domain": [-21.6016, 34.361], "nice": false, "zero": false}},
            "x": {"datum": -0.0011, "type": "quantitative", "scale": {"domain": [-0.01963, 0.127778], "nice": false, "zero": false}},
            "x2": {"datum": 0.12}
          }
        },
        {
          "data": {"values": [{}]},
          "mark": {"type": "text", "text": "Auto-Correlation", "fontSize": 6.5, "color": "#333333", "baseline": "middle"},
          "encoding": {
            "x": {"datum": 0.06, "type": "quantitative", "scale": {"domain": [-0.01963, 0.127778], "nice": false, "zero": false}},
            "y": {"datum": 32.1, "type": "quantitative", "scale": {"domain": [-21.6016, 34.361], "nice": false, "zero": false}}
          }
        },
        {
          "data": {"values": [{}]},
          "mark": {"type": "rule", "color": "#555555", "strokeWidth": 1.6},
          "encoding": {
            "y": {"datum": -10.9, "type": "quantitative", "scale": {"domain": [-21.6016, 34.361], "nice": false, "zero": false}}
          }
        },
        {
          "data": {"values": [{}]},
          "mark": {"type": "text", "text": "JLR ISCAE", "fontSize": 6, "color": "#444444", "align": "left", "baseline": "middle"},
          "encoding": {
            "x": {"datum": 0.0985, "type": "quantitative", "scale": {"domain": [-0.01963, 0.127778], "nice": false, "zero": false}},
            "y": {"datum": -12.9, "type": "quantitative", "scale": {"domain": [-21.6016, 34.361], "nice": false, "zero": false}}
          }
        },
        {
          "data": {"values": [{}]},
          "mark": {"type": "text", "text": "Load Case 4", "fontSize": 19, "color": "#000000", "align": "center", "baseline": "middle"},
          "encoding": {
            "x": {"datum": 0.0598, "type": "quantitative", "scale": {"domain": [-0.01963, 0.127778], "nice": false, "zero": false}},
            "y": {"datum": -15.85, "type": "quantitative", "scale": {"domain": [-21.6016, 34.361], "nice": false, "zero": false}}
          }
        }
      ]
    },
    {
      "width": 398, "height": 299,
      "data": {"name": "p5"},
      "layer": [
        {
          "data": {"values": [{"t": 0.02}, {"t": 0.04}, {"t": 0.06}, {"t": 0.08}, {"t": 0.1}]},
          "mark": {"type": "rule", "color": "#7a7a7a", "strokeDash": [5, 4], "strokeWidth": 0.9},
          "encoding": {
            "x": {"field": "t", "type": "quantitative", "scale": {"domain": [-0.01963, 0.127778], "nice": false, "zero": false},
              "axis": {"values": [0, 0.02, 0.04, 0.06, 0.08, 0.1, 0.12], "offset": -88.7, "domain": false, "grid": false, "tickSize": 3, "tickColor": "#808080", "labelFontSize": 6, "labelColor": "#555555", "labelPadding": 1.5, "labelFlush": false, "labelOverlap": false, "labelExpr": "datum.value == 0 ? '0' : format(datum.value, '.2f')", "title": "Time (s)", "titleFontSize": 6.5, "titleFontWeight": "normal", "titleColor": "#444444", "titleX": 215, "titleY": 13, "titleBaseline": "middle", "titleAlign": "center"}},
            "y": {"datum": -5, "type": "quantitative", "scale": {"domain": [-21.6016, 34.361], "nice": false, "zero": false},
              "axis": {"values": [-5, 0, 5, 10, 15, 20, 25, 30], "offset": -53, "domain": false, "grid": false, "tickSize": 4, "tickColor": "#808080", "labelFontSize": 6, "labelColor": "#555555", "labelPadding": 4, "labelFlush": false, "labelOverlap": false, "title": "Acceleration (g)", "titleFontSize": 6.5, "titleFontWeight": "normal", "titleColor": "#444444", "titleX": -23, "titleY": 116.8, "titleAngle": -90, "titleBaseline": "middle", "titleAlign": "center"}},
            "y2": {"datum": 30}
          }
        },
        {
          "data": {"values": [{"a": 0}, {"a": 5}, {"a": 10}, {"a": 15}, {"a": 20}, {"a": 25}]},
          "mark": {"type": "rule", "color": "#7a7a7a", "strokeDash": [5, 4], "strokeWidth": 0.9},
          "encoding": {
            "y": {"field": "a", "type": "quantitative", "scale": {"domain": [-21.6016, 34.361], "nice": false, "zero": false}},
            "x": {"datum": 0, "type": "quantitative", "scale": {"domain": [-0.01963, 0.127778], "nice": false, "zero": false}},
            "x2": {"datum": 0.12}
          }
        },
        {
          "data": {"values": [{"t": 0.02}, {"t": 0.04}, {"t": 0.06}, {"t": 0.08}, {"t": 0.1}, {"t": 0.12}]},
          "mark": {"type": "rule", "color": "#555555", "strokeWidth": 1},
          "encoding": {
            "x": {"field": "t", "type": "quantitative", "scale": {"domain": [-0.01963, 0.127778], "nice": false, "zero": false}},
            "y": {"datum": 30, "type": "quantitative", "scale": {"domain": [-21.6016, 34.361], "nice": false, "zero": false}},
            "y2": {"datum": 30.6}
          }
        },
        {
          "data": {"values": [{"a": -5}, {"a": 0}, {"a": 5}, {"a": 10}, {"a": 15}, {"a": 20}, {"a": 25}, {"a": 30}]},
          "mark": {"type": "rule", "color": "#555555", "strokeWidth": 1},
          "encoding": {
            "y": {"field": "a", "type": "quantitative", "scale": {"domain": [-21.6016, 34.361], "nice": false, "zero": false}},
            "x": {"datum": 0.12, "type": "quantitative", "scale": {"domain": [-0.01963, 0.127778], "nice": false, "zero": false}},
            "x2": {"datum": 0.1212}
          }
        },
        {
          "data": {"values": [{}]},
          "mark": {"type": "rect", "filled": false, "stroke": "#333333", "strokeWidth": 0.9},
          "encoding": {
            "x": {"datum": 0, "type": "quantitative", "scale": {"domain": [-0.01963, 0.127778], "nice": false, "zero": false}},
            "x2": {"datum": 0.12},
            "y": {"datum": -5, "type": "quantitative", "scale": {"domain": [-21.6016, 34.361], "nice": false, "zero": false}},
            "y2": {"datum": 30}
          }
        },
        {
          "mark": {"type": "line", "interpolate": "monotone", "strokeWidth": 1.1},
          "encoding": {
            "x": {"field": "t", "type": "quantitative", "scale": {"domain": [-0.01963, 0.127778], "nice": false, "zero": false}},
            "y": {"field": "a", "type": "quantitative", "scale": {"domain": [-21.6016, 34.361], "nice": false, "zero": false}},
            "color": {"field": "s", "type": "nominal", "scale": {"domain": ["LC_5", "Test5a_711A186D", "Test5b_711A187D"], "range": ["#ef4a36", "#111111", "#111111"]},
              "legend": {"title": null, "orient": "none", "legendX": 14, "legendY": 244.3, "symbolType": "M-4,0H4", "symbolSize": 16, "symbolStrokeWidth": 1.1, "labelFontSize": 6.5, "labelColor": "#333333", "labelOffset": 10, "rowPadding": 0.3, "padding": 0}},
            "strokeDash": {"field": "s", "type": "nominal", "scale": {"domain": ["LC_5", "Test5a_711A186D", "Test5b_711A187D"], "range": [[1, 0], [1.6, 1.4], [3.5, 1.5, 1.2, 1.5]]},
              "legend": {"title": null, "orient": "none", "legendX": 14, "legendY": 244.3, "symbolType": "M-4,0H4", "symbolSize": 16, "symbolStrokeWidth": 1.1, "labelFontSize": 6.5, "labelColor": "#333333", "labelOffset": 10, "rowPadding": 0.3, "padding": 0}}
          }
        },
        {
          "data": {"values": [{}]},
          "mark": {"type": "rule", "color": "#808080", "strokeWidth": 2.2},
          "encoding": {
            "x": {"datum": 0, "type": "quantitative", "scale": {"domain": [-0.01963, 0.127778], "nice": false, "zero": false}},
            "y": {"datum": -5.6, "type": "quantitative", "scale": {"domain": [-21.6016, 34.361], "nice": false, "zero": false}},
            "y2": {"datum": 30.6}
          }
        },
        {
          "data": {"values": [{}]},
          "mark": {"type": "rule", "color": "#808080", "strokeWidth": 2.2},
          "encoding": {
            "y": {"datum": -5, "type": "quantitative", "scale": {"domain": [-21.6016, 34.361], "nice": false, "zero": false}},
            "x": {"datum": -0.0011, "type": "quantitative", "scale": {"domain": [-0.01963, 0.127778], "nice": false, "zero": false}},
            "x2": {"datum": 0.12}
          }
        },
        {
          "data": {"values": [{}]},
          "mark": {"type": "text", "text": "Auto-Correlation", "fontSize": 6.5, "color": "#333333", "baseline": "middle"},
          "encoding": {
            "x": {"datum": 0.06, "type": "quantitative", "scale": {"domain": [-0.01963, 0.127778], "nice": false, "zero": false}},
            "y": {"datum": 32.1, "type": "quantitative", "scale": {"domain": [-21.6016, 34.361], "nice": false, "zero": false}}
          }
        },
        {
          "data": {"values": [{}]},
          "mark": {"type": "rule", "color": "#555555", "strokeWidth": 1.6},
          "encoding": {
            "y": {"datum": -11.25, "type": "quantitative", "scale": {"domain": [-21.6016, 34.361], "nice": false, "zero": false}}
          }
        },
        {
          "data": {"values": [{}]},
          "mark": {"type": "text", "text": "JLR ISCAE", "fontSize": 6, "color": "#444444", "align": "left", "baseline": "middle"},
          "encoding": {
            "x": {"datum": 0.0985, "type": "quantitative", "scale": {"domain": [-0.01963, 0.127778], "nice": false, "zero": false}},
            "y": {"datum": -12.9, "type": "quantitative", "scale": {"domain": [-21.6016, 34.361], "nice": false, "zero": false}}
          }
        },
        {
          "data": {"values": [{}]},
          "mark": {"type": "text", "text": "Load Case 5", "fontSize": 19, "color": "#000000", "align": "center", "baseline": "middle"},
          "encoding": {
            "x": {"datum": 0.0598, "type": "quantitative", "scale": {"domain": [-0.01963, 0.127778], "nice": false, "zero": false}},
            "y": {"datum": -15.85, "type": "quantitative", "scale": {"domain": [-21.6016, 34.361], "nice": false, "zero": false}}
          }
        }
      ]
    },
    {
      "width": 398, "height": 299,
      "data": {"name": "p6"},
      "layer": [
        {
          "data": {"values": [{"t": 0.02}, {"t": 0.04}, {"t": 0.06}, {"t": 0.08}, {"t": 0.1}]},
          "mark": {"type": "rule", "color": "#7a7a7a", "strokeDash": [5, 4], "strokeWidth": 0.9},
          "encoding": {
            "x": {"field": "t", "type": "quantitative", "scale": {"domain": [-0.01963, 0.127778], "nice": false, "zero": false},
              "axis": {"values": [0, 0.02, 0.04, 0.06, 0.08, 0.1, 0.12], "offset": -88.7, "domain": false, "grid": false, "tickSize": 3, "tickColor": "#808080", "labelFontSize": 6, "labelColor": "#555555", "labelPadding": 1.5, "labelFlush": false, "labelOverlap": false, "labelExpr": "datum.value == 0 ? '0' : format(datum.value, '.2f')", "title": "Time (s)", "titleFontSize": 6.5, "titleFontWeight": "normal", "titleColor": "#444444", "titleX": 215, "titleY": 13, "titleBaseline": "middle", "titleAlign": "center"}},
            "y": {"datum": -5, "type": "quantitative", "scale": {"domain": [-21.6016, 34.361], "nice": false, "zero": false},
              "axis": {"values": [-5, 0, 5, 10, 15, 20, 25, 30], "offset": -53, "domain": false, "grid": false, "tickSize": 4, "tickColor": "#808080", "labelFontSize": 6, "labelColor": "#555555", "labelPadding": 4, "labelFlush": false, "labelOverlap": false, "title": "Acceleration (g)", "titleFontSize": 6.5, "titleFontWeight": "normal", "titleColor": "#444444", "titleX": -23, "titleY": 116.8, "titleAngle": -90, "titleBaseline": "middle", "titleAlign": "center"}},
            "y2": {"datum": 30}
          }
        },
        {
          "data": {"values": [{"a": 0}, {"a": 5}, {"a": 10}, {"a": 15}, {"a": 20}, {"a": 25}]},
          "mark": {"type": "rule", "color": "#7a7a7a", "strokeDash": [5, 4], "strokeWidth": 0.9},
          "encoding": {
            "y": {"field": "a", "type": "quantitative", "scale": {"domain": [-21.6016, 34.361], "nice": false, "zero": false}},
            "x": {"datum": 0, "type": "quantitative", "scale": {"domain": [-0.01963, 0.127778], "nice": false, "zero": false}},
            "x2": {"datum": 0.12}
          }
        },
        {
          "data": {"values": [{"t": 0.02}, {"t": 0.04}, {"t": 0.06}, {"t": 0.08}, {"t": 0.1}, {"t": 0.12}]},
          "mark": {"type": "rule", "color": "#555555", "strokeWidth": 1},
          "encoding": {
            "x": {"field": "t", "type": "quantitative", "scale": {"domain": [-0.01963, 0.127778], "nice": false, "zero": false}},
            "y": {"datum": 30, "type": "quantitative", "scale": {"domain": [-21.6016, 34.361], "nice": false, "zero": false}},
            "y2": {"datum": 30.6}
          }
        },
        {
          "data": {"values": [{"a": -5}, {"a": 0}, {"a": 5}, {"a": 10}, {"a": 15}, {"a": 20}, {"a": 25}, {"a": 30}]},
          "mark": {"type": "rule", "color": "#555555", "strokeWidth": 1},
          "encoding": {
            "y": {"field": "a", "type": "quantitative", "scale": {"domain": [-21.6016, 34.361], "nice": false, "zero": false}},
            "x": {"datum": 0.12, "type": "quantitative", "scale": {"domain": [-0.01963, 0.127778], "nice": false, "zero": false}},
            "x2": {"datum": 0.1212}
          }
        },
        {
          "data": {"values": [{}]},
          "mark": {"type": "rect", "filled": false, "stroke": "#333333", "strokeWidth": 0.9},
          "encoding": {
            "x": {"datum": 0, "type": "quantitative", "scale": {"domain": [-0.01963, 0.127778], "nice": false, "zero": false}},
            "x2": {"datum": 0.12},
            "y": {"datum": -5, "type": "quantitative", "scale": {"domain": [-21.6016, 34.361], "nice": false, "zero": false}},
            "y2": {"datum": 30}
          }
        },
        {
          "mark": {"type": "line", "interpolate": "monotone", "strokeWidth": 1.1},
          "encoding": {
            "x": {"field": "t", "type": "quantitative", "scale": {"domain": [-0.01963, 0.127778], "nice": false, "zero": false}},
            "y": {"field": "a", "type": "quantitative", "scale": {"domain": [-21.6016, 34.361], "nice": false, "zero": false}},
            "color": {"field": "s", "type": "nominal", "scale": {"domain": ["LC_6", "Test6a_711A188D", "Test6b_711A189D"], "range": ["#ef4a36", "#111111", "#111111"]},
              "legend": {"title": null, "orient": "none", "legendX": 14, "legendY": 244.3, "symbolType": "M-4,0H4", "symbolSize": 16, "symbolStrokeWidth": 1.1, "labelFontSize": 6.5, "labelColor": "#333333", "labelOffset": 10, "rowPadding": 0.3, "padding": 0}},
            "strokeDash": {"field": "s", "type": "nominal", "scale": {"domain": ["LC_6", "Test6a_711A188D", "Test6b_711A189D"], "range": [[1, 0], [1.6, 1.4], [3.5, 1.5, 1.2, 1.5]]},
              "legend": {"title": null, "orient": "none", "legendX": 14, "legendY": 244.3, "symbolType": "M-4,0H4", "symbolSize": 16, "symbolStrokeWidth": 1.1, "labelFontSize": 6.5, "labelColor": "#333333", "labelOffset": 10, "rowPadding": 0.3, "padding": 0}}
          }
        },
        {
          "data": {"values": [{}]},
          "mark": {"type": "rule", "color": "#808080", "strokeWidth": 2.2},
          "encoding": {
            "x": {"datum": 0, "type": "quantitative", "scale": {"domain": [-0.01963, 0.127778], "nice": false, "zero": false}},
            "y": {"datum": -5.6, "type": "quantitative", "scale": {"domain": [-21.6016, 34.361], "nice": false, "zero": false}},
            "y2": {"datum": 30.6}
          }
        },
        {
          "data": {"values": [{}]},
          "mark": {"type": "rule", "color": "#808080", "strokeWidth": 2.2},
          "encoding": {
            "y": {"datum": -5, "type": "quantitative", "scale": {"domain": [-21.6016, 34.361], "nice": false, "zero": false}},
            "x": {"datum": -0.0011, "type": "quantitative", "scale": {"domain": [-0.01963, 0.127778], "nice": false, "zero": false}},
            "x2": {"datum": 0.12}
          }
        },
        {
          "data": {"values": [{}]},
          "mark": {"type": "text", "text": "Auto-Correlation", "fontSize": 6.5, "color": "#333333", "baseline": "middle"},
          "encoding": {
            "x": {"datum": 0.06, "type": "quantitative", "scale": {"domain": [-0.01963, 0.127778], "nice": false, "zero": false}},
            "y": {"datum": 32.1, "type": "quantitative", "scale": {"domain": [-21.6016, 34.361], "nice": false, "zero": false}}
          }
        },
        {
          "data": {"values": [{}]},
          "mark": {"type": "rule", "color": "#555555", "strokeWidth": 1.6},
          "encoding": {
            "y": {"datum": -11.25, "type": "quantitative", "scale": {"domain": [-21.6016, 34.361], "nice": false, "zero": false}}
          }
        },
        {
          "data": {"values": [{}]},
          "mark": {"type": "text", "text": "JLR ISCAE", "fontSize": 6, "color": "#444444", "align": "left", "baseline": "middle"},
          "encoding": {
            "x": {"datum": 0.0985, "type": "quantitative", "scale": {"domain": [-0.01963, 0.127778], "nice": false, "zero": false}},
            "y": {"datum": -12.9, "type": "quantitative", "scale": {"domain": [-21.6016, 34.361], "nice": false, "zero": false}}
          }
        },
        {
          "data": {"values": [{}]},
          "mark": {"type": "text", "text": "Load Case 6", "fontSize": 19, "color": "#000000", "align": "center", "baseline": "middle"},
          "encoding": {
            "x": {"datum": 0.0598, "type": "quantitative", "scale": {"domain": [-0.01963, 0.127778], "nice": false, "zero": false}},
            "y": {"datum": -15.85, "type": "quantitative", "scale": {"domain": [-21.6016, 34.361], "nice": false, "zero": false}}
          }
        }
      ]
    }
  ]
}
